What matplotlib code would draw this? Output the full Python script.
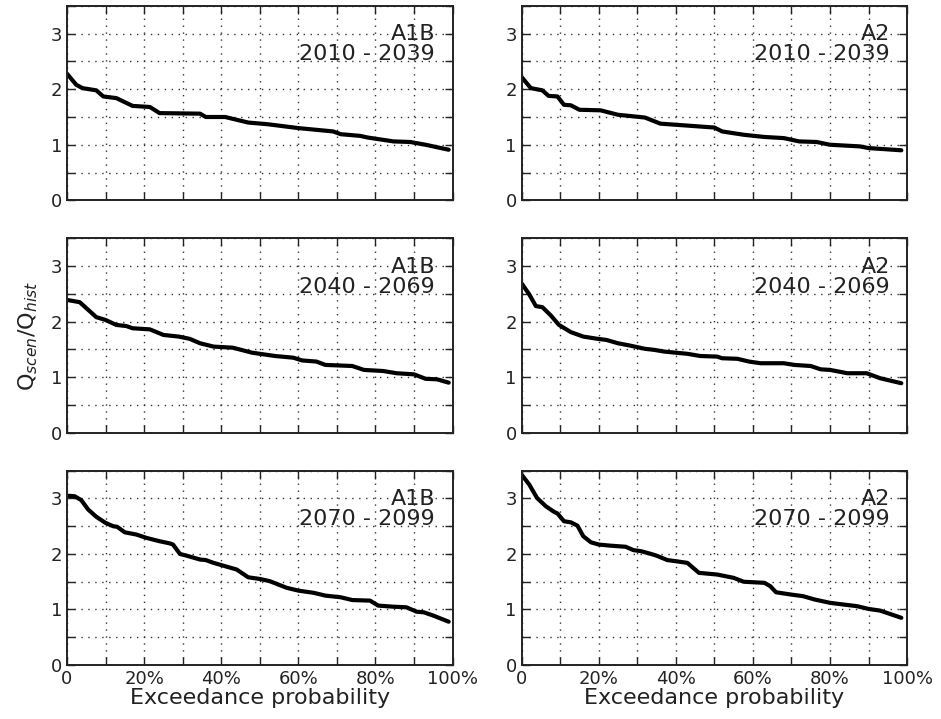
import matplotlib.pyplot as plt
from matplotlib.ticker import MultipleLocator, FuncFormatter

# Кривые превышения (x в %, y = Qscen/Qhist)
a1b_2010_x = [0, 2.4, 4, 7.6, 9.4, 12.8, 17, 21.5, 24, 34.5, 36, 41, 47, 52, 60, 69, 71, 76, 78, 84.7, 89, 93, 99]
a1b_2010_y = [2.28, 2.08, 2.02, 1.98, 1.87, 1.84, 1.70, 1.68, 1.57, 1.56, 1.50, 1.50, 1.40, 1.37, 1.30, 1.24, 1.19, 1.16, 1.13, 1.06, 1.05, 1.00, 0.91]

a2_2010_x = [0, 2.4, 5.4, 7, 9.3, 11, 12.8, 15, 20.5, 25, 32, 36, 40, 50, 52, 57.6, 63, 68, 72, 76.5, 80, 87.8, 90, 98.5]
a2_2010_y = [2.22, 2.02, 1.98, 1.88, 1.87, 1.72, 1.71, 1.63, 1.62, 1.54, 1.49, 1.38, 1.36, 1.31, 1.24, 1.18, 1.14, 1.12, 1.06, 1.05, 1.00, 0.97, 0.94, 0.90]

a1b_2040_x = [0, 3.3, 7.6, 10, 12.8, 15.4, 17, 21.5, 25, 29, 31.8, 34.5, 38, 43, 48, 54, 58.7, 61, 64.7, 67, 74, 77, 82, 85.5, 90, 93, 96, 99]
a1b_2040_y = [2.39, 2.35, 2.08, 2.03, 1.94, 1.92, 1.88, 1.86, 1.76, 1.73, 1.69, 1.61, 1.55, 1.53, 1.44, 1.38, 1.35, 1.30, 1.28, 1.22, 1.20, 1.13, 1.11, 1.07, 1.05, 0.97, 0.96, 0.90]

a2_2040_x = [0, 2, 3.7, 5.4, 7.6, 9.7, 12.8, 16, 19.7, 22, 25, 28, 32, 34.5, 37, 43, 46.4, 50.7, 52, 56, 59, 62, 68, 70.7, 75, 77.6, 80, 84.5, 89.5, 93, 98.5]
a2_2040_y = [2.69, 2.49, 2.28, 2.26, 2.11, 1.94, 1.81, 1.73, 1.69, 1.67, 1.61, 1.57, 1.51, 1.49, 1.46, 1.42, 1.38, 1.37, 1.34, 1.33, 1.28, 1.25, 1.25, 1.22, 1.20, 1.14, 1.13, 1.07, 1.07, 0.98, 0.89]

a1b_2070_x = [0, 2, 3.7, 5.5, 7.6, 10, 12, 13, 15, 18, 20.6, 24, 26.7, 27.5, 29.3, 31, 34.5, 36, 38, 41, 44, 47, 50, 52.6, 57, 60, 64, 67, 71, 74, 78.6, 80.7, 84.7, 88, 90.7, 92.5, 95, 99]
a1b_2070_y = [3.05, 3.04, 2.97, 2.80, 2.67, 2.56, 2.50, 2.49, 2.39, 2.35, 2.29, 2.23, 2.19, 2.17, 2.00, 1.97, 1.90, 1.89, 1.84, 1.78, 1.72, 1.58, 1.55, 1.51, 1.39, 1.34, 1.30, 1.25, 1.22, 1.17, 1.16, 1.07, 1.05, 1.04, 0.96, 0.95, 0.89, 0.78]

a2_2070_x = [0, 2, 4, 6.3, 8.4, 9.3, 11, 12.8, 14.5, 16, 18, 20, 23, 27, 29, 31, 33.6, 35, 37.8, 40, 43, 46, 50.7, 55, 57.6, 63, 64.5, 66, 69.8, 73, 76, 80, 83.4, 87, 90, 93, 94.7, 98.5]
a2_2070_y = [3.43, 3.25, 3.01, 2.86, 2.76, 2.73, 2.59, 2.57, 2.51, 2.32, 2.21, 2.17, 2.15, 2.13, 2.07, 2.05, 2.00, 1.97, 1.89, 1.87, 1.84, 1.66, 1.63, 1.57, 1.50, 1.48, 1.42, 1.31, 1.27, 1.24, 1.18, 1.12, 1.09, 1.06, 1.01, 0.98, 0.94, 0.85]

panels = [
    (a1b_2010_x, a1b_2010_y, "A1B\n2010 - 2039"),
    (a2_2010_x, a2_2010_y, "A2\n2010 - 2039"),
    (a1b_2040_x, a1b_2040_y, "A1B\n2040 - 2069"),
    (a2_2040_x, a2_2040_y, "A2\n2040 - 2069"),
    (a1b_2070_x, a1b_2070_y, "A1B\n2070 - 2099"),
    (a2_2070_x, a2_2070_y, "A2\n2070 - 2099"),
]

fig, axes = plt.subplots(3, 2, figsize=(9.41, 7.19), dpi=100)
plt.subplots_adjust(left=0.0712, right=0.964, top=0.9917, bottom=0.0751,
                    wspace=0.179, hspace=0.196)


def pct(v, pos):
    if v == 0:
        return "0"
    return f"{v:.0f}%"


for i, (ax, (x, y, label)) in enumerate(zip(axes.flat, panels)):
    ax.plot(x, y, color="black", linewidth=3.0,
            solid_joinstyle="round", solid_capstyle="round")
    ax.set_xlim(0, 100)
    ax.set_ylim(0, 3.5)
    ax.xaxis.set_major_locator(MultipleLocator(20))
    ax.xaxis.set_minor_locator(MultipleLocator(10))
    ax.yaxis.set_major_locator(MultipleLocator(1))
    ax.yaxis.set_minor_locator(MultipleLocator(0.5))
    ax.xaxis.set_major_formatter(FuncFormatter(pct))
    ax.grid(True, which="both", color="#333333", linestyle=(0, (1, 4)), linewidth=1.0)
    ax.tick_params(which="both", direction="in", top=True, right=True,
                   length=6, width=1, labelsize=13, colors="#222222")
    for s in ax.spines.values():
        s.set_linewidth(1.4)
        s.set_edgecolor("#222222")
    if i < 4:
        ax.tick_params(labelbottom=False)
    else:
        ax.set_xlabel("Exceedance probability", fontsize=16, labelpad=0, color="#222222")
    ax.text(0.955, 0.905, label, transform=ax.transAxes, ha="right", va="top",
            multialignment="right", fontsize=16, linespacing=1.0, color="#222222")

axes[1, 0].set_ylabel(r"Q$_{scen}$/Q$_{hist}$", fontsize=16, labelpad=8, color="#222222")

plt.savefig("out.png", dpi=100)
